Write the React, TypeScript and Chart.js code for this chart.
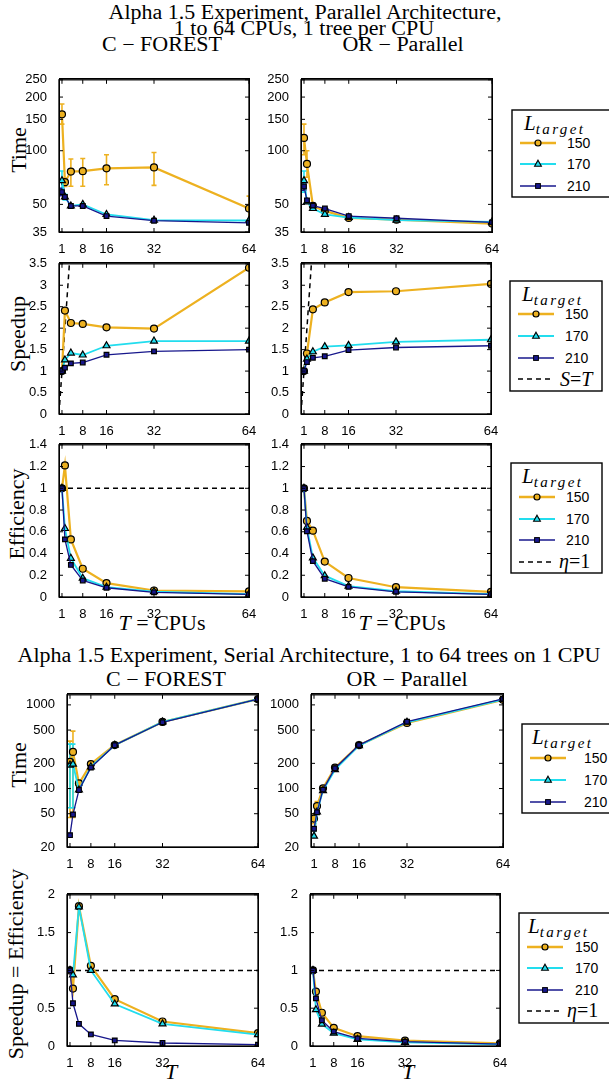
import React, { useEffect, useRef } from "react";
import { Chart, registerables } from "chart.js";

Chart.register(...registerables);

// ---------- data ----------
const T_VALUES = [1, 2, 4, 8, 16, 32, 64];
const X_TICKS = [1, 8, 16, 32, 64];
const SERIES_LABELS = ["150", "170", "210"];

const TIME_PAR_TICKS = [35, 50, 100, 150, 200, 250];
const SPEED_PAR_TICKS = [0, 0.5, 1, 1.5, 2, 2.5, 3, 3.5];
const EFF_PAR_TICKS = [0, 0.2, 0.4, 0.6, 0.8, 1, 1.2, 1.4];
const TIME_SER_TICKS = [20, 50, 100, 200, 500, 1000];
const SPEED_SER_TICKS = [0, 0.5, 1, 1.5, 2];

// Parallel architecture – time
const parTimeCF150 = [160, 66.6, 76.4, 76.8, 79.7, 80.6, 47.4];
const parTimeCF170 = [68, 55, 49, 50, 43.9, 40.8, 40.6];
const parTimeCF210 = [58.6, 55, 49, 49, 43, 40.5, 39.4];
const parTimeCF150Err = [[141, 183], [63, 70], [63.2, 89.8], [63.2, 90.5], [64.4, 95], [63.9, 97.7], [40, 55.6]];
const parTimeCF170Err = [[58.6, 77], [53, 57], null, null, null, null, null];
const parTimeCF210Err = [[56, 61.5], null, null, null, null, null, null];

const parTimeOR150 = [118, 84.3, 49, 46, 42, 41, 39];
const parTimeOR170 = [68, 51.6, 47.4, 44, 42.2, 40.8, 39.9];
const parTimeOR210 = [63, 52.7, 49.2, 47.4, 43, 41.8, 39.6];
const parTimeOR150Err = [[95, 141], [71, 100], null, null, null, null, null];
const parTimeOR170Err = [[58.6, 77], null, null, null, null, null, null];
const parTimeOR210Err = [[60, 66], null, null, null, null, null, null];

// Parallel architecture – speedup
const parSpeedCF150 = [1, 2.41, 2.12, 2.1, 2.02, 1.99, 3.41];
const parSpeedCF170 = [1, 1.26, 1.42, 1.375, 1.59, 1.7, 1.7];
const parSpeedCF210 = [1, 1.08, 1.18, 1.2, 1.38, 1.46, 1.5];
const parSpeedOR150 = [1, 1.41, 2.44, 2.6, 2.84, 2.86, 3.03];
const parSpeedOR170 = [1, 1.28, 1.45, 1.57, 1.6, 1.68, 1.73];
const parSpeedOR210 = [1, 1.21, 1.31, 1.345, 1.49, 1.55, 1.59];

// Parallel architecture – efficiency
const parEffCF150 = [1, 1.21, 0.53, 0.26, 0.128, 0.06, 0.052];
const parEffCF170 = [1, 0.63, 0.356, 0.173, 0.09, 0.05, 0.027];
const parEffCF210 = [1, 0.53, 0.295, 0.152, 0.085, 0.043, 0.024];
const parEffOR150 = [1, 0.7, 0.61, 0.326, 0.175, 0.09, 0.047];
const parEffOR170 = [1, 0.64, 0.36, 0.196, 0.1, 0.053, 0.027];
const parEffOR210 = [1, 0.605, 0.33, 0.168, 0.093, 0.048, 0.025];

// Serial architecture – time
const serTimeCF150 = [208, 274, 115, 196, 331, 625, 1170];
const serTimeCF170 = [191, 196, 96, 182, 330, 625, 1170];
const serTimeCF210 = [27.7, 49, 96, 178, 330, 620, 1170];
const serTimeCF150Err = [[45, 369], [45, 485], null, null, null, null, null];
const serTimeCF170Err = [[59, 340], [59, 340], null, null, null, null, null];

const serTimeOR150 = [43.7, 61.7, 100.7, 178, 330, 608, 1150];
const serTimeOR170 = [27, 52.4, 94.6, 168, 325, 620, 1160];
const serTimeOR210 = [33, 52, 97, 175, 331, 630, 1180];
const serTimeOR150Err = [[38, 50], [55, 70], null, null, null, null, null];

// Serial architecture – speedup = efficiency
const serSpeedCF150 = [1, 0.76, 1.85, 1.06, 0.62, 0.324, 0.17];
const serSpeedCF170 = [1, 0.94, 1.84, 1.0, 0.556, 0.293, 0.15];
const serSpeedCF210 = [1, 0.565, 0.293, 0.153, 0.074, 0.04, 0.018];
const serSpeedOR150 = [1, 0.72, 0.44, 0.24, 0.13, 0.07, 0.035];
const serSpeedOR170 = [1, 0.48, 0.29, 0.17, 0.087, 0.048, 0.022];
const serSpeedOR210 = [1, 0.63, 0.34, 0.19, 0.1, 0.057, 0.026];

// ---------- styles ----------
const STYLES = [
  { color: "#EDB120", point: "circle", radius: 3.5, width: 2.2, order: 2 },
  { color: "#22DDEE", point: "triangle", radius: 4, width: 1.8, order: 1 },
  { color: "#17178C", point: "rect", radius: 3.3, width: 1.3, order: 0 },
];
const SERIF = "'Liberation Serif', 'Times New Roman', serif";
const SANS = "'Liberation Sans', Arial, sans-serif";

type Err = number[] | null;

function drawErrBars(chart: any) {
  const ctx = chart.ctx;
  const a = chart.chartArea;
  const xs = chart.scales.x;
  const ys = chart.scales.y;
  ctx.save();
  ctx.beginPath();
  ctx.rect(a.left, a.top, a.right - a.left, a.bottom - a.top);
  ctx.clip();
  chart.data.datasets.forEach((ds: any) => {
    if (!ds.errBars) return;
    ctx.strokeStyle = ds.borderColor;
    ctx.lineWidth = 1.6;
    ds.errBars.forEach((e: Err, i: number) => {
      if (!e) return;
      const px = xs.getPixelForValue(ds.data[i].x);
      const p1 = ys.getPixelForValue(e[0]);
      const p2 = ys.getPixelForValue(e[1]);
      ctx.beginPath();
      ctx.moveTo(px, p1);
      ctx.lineTo(px, p2);
      ctx.moveTo(px - 2.5, p1);
      ctx.lineTo(px + 2.5, p1);
      ctx.moveTo(px - 2.5, p2);
      ctx.lineTo(px + 2.5, p2);
      ctx.stroke();
    });
  });
  ctx.restore();
}

function drawFrame(chart: any) {
  const ctx = chart.ctx;
  const a = chart.chartArea;
  const xs = chart.scales.x;
  const ys = chart.scales.y;
  ctx.save();
  ctx.setLineDash([]);
  ctx.globalAlpha = 1;
  ctx.globalCompositeOperation = "source-over";
  ctx.strokeStyle = "#000";
  ctx.lineWidth = 1.3;
  ctx.strokeRect(a.left, a.top, a.right - a.left, a.bottom - a.top);
  ctx.lineWidth = 1;
  ctx.beginPath();
  xs.ticks.forEach((t: any) => {
    const px = xs.getPixelForValue(t.value);
    ctx.moveTo(px, a.bottom);
    ctx.lineTo(px, a.bottom - 4);
    ctx.moveTo(px, a.top);
    ctx.lineTo(px, a.top + 4);
  });
  ys.ticks.forEach((t: any) => {
    const py = ys.getPixelForValue(t.value);
    ctx.moveTo(a.left, py);
    ctx.lineTo(a.left + 4, py);
    ctx.moveTo(a.right, py);
    ctx.lineTo(a.right - 4, py);
  });
  ctx.stroke();
  ctx.restore();
}

const decorPlugin = {
  id: "decor",
  beforeDatasetsDraw(chart: any) {
    drawErrBars(chart);
  },
  afterDraw(chart: any) {
    drawFrame(chart);
  },
};

type PanelSpec = {
  L: number; T: number; R: number; B: number;
  log: boolean; min: number; max: number; ticks: number[];
  series: number[][]; errs?: (Err[] | null)[];
  refKind?: "ST" | "eta";
};

const PAD_L = 46, PAD_T = 10, PAD_R = 14, PAD_B = 24;

function Panel({ spec }: { spec: PanelSpec }) {
  const ref = useRef<HTMLCanvasElement>(null);
  const W = spec.R - spec.L + PAD_L + PAD_R;
  const H = spec.B - spec.T + PAD_T + PAD_B;
  useEffect(() => {
    const datasets: any[] = spec.series.map((vals, si) => {
      const st = STYLES[si];
      return {
        data: T_VALUES.map((t, i) => ({ x: t, y: vals[i] })),
        borderColor: st.color,
        backgroundColor: st.color,
        borderWidth: st.width,
        pointStyle: st.point,
        pointRadius: st.radius,
        pointBackgroundColor: st.color,
        pointBorderColor: "#000",
        pointBorderWidth: 1.2,
        order: st.order,
        errBars: spec.errs ? spec.errs[si] : null,
      };
    });
    if (spec.refKind) {
      datasets.push({
        data: spec.refKind === "ST" ? [{ x: 0, y: 0 }, { x: 64, y: 64 }] : [{ x: 0, y: 1 }, { x: 64, y: 1 }],
        borderColor: "#000",
        borderWidth: 1.5,
        borderDash: [5, 4],
        pointRadius: 0,
        order: 3,
      });
    }
    const opts: any = {
      animation: false,
      responsive: false,
      maintainAspectRatio: false,
      devicePixelRatio: 1,
      layout: { padding: { left: 0, top: PAD_T, right: PAD_R, bottom: 0 } },
      plugins: { legend: { display: false }, tooltip: { enabled: false }, title: { display: false } },
      elements: { line: { tension: 0 } },
      scales: {
        x: {
          type: "linear",
          min: 0,
          max: 64,
          grid: { display: false },
          border: { display: false },
          ticks: { color: "#000", font: { family: SANS, size: 13 }, padding: 2, autoSkip: false, maxRotation: 0, callback: (v: any) => String(v) },
          afterBuildTicks: (s: any) => { s.ticks = X_TICKS.map((v) => ({ value: v })); },
          afterFit: (s: any) => { s.height = PAD_B; },
        },
        y: {
          type: spec.log ? "logarithmic" : "linear",
          min: spec.min,
          max: spec.max,
          grid: { display: false },
          border: { display: false },
          ticks: { color: "#000", font: { family: SANS, size: 13 }, padding: 4, autoSkip: false, callback: (v: any) => String(v) },
          afterBuildTicks: (s: any) => { s.ticks = spec.ticks.map((v) => ({ value: v })); },
          afterFit: (s: any) => { s.width = PAD_L; },
        },
      },
    };
    const chart = new Chart(ref.current!, {
      type: "line",
      data: { datasets },
      plugins: [decorPlugin],
      options: opts,
    });
    // align the chart area exactly with the intended plot box
    const a = chart.chartArea;
    const dTop = a.top - PAD_T;
    const dRight = a.right - (W - PAD_R);
    if (Math.abs(dTop) > 0.2 || Math.abs(dRight) > 0.2) {
      opts.layout.padding = { left: 0, top: PAD_T - dTop, right: PAD_R + dRight, bottom: 0 };
      chart.options = opts;
      chart.update();
    }
    return () => chart.destroy();
  }, []);
  return (
    <>
      <canvas
        ref={ref}
        width={W}
        height={H}
        style={{ position: "absolute", left: spec.L - PAD_L, top: spec.T - PAD_T, width: W, height: H }}
      />
      <div
        style={{
          position: "absolute",
          left: spec.L - 0.5,
          top: spec.T - 0.5,
          width: spec.R - spec.L + 1,
          height: spec.B - spec.T + 1,
          border: "1.3px solid #000",
          boxSizing: "border-box",
          pointerEvents: "none",
        }}
      />
    </>
  );
}

type LegendSpec = { x: number; y: number; w: number; h: number; ys: number[]; hdrX: number; labelX: number; refY?: number; refKind?: "ST" | "eta" };

function Legend({ spec }: { spec: LegendSpec }) {
  const svgW = Math.min(spec.w + 4, 609 - spec.x + 1);
  return (
    <svg width={svgW} height={spec.h + 2} style={{ position: "absolute", left: spec.x - 1, top: spec.y - 1, overflow: "hidden" }}>
      <rect x={1} y={1} width={spec.w} height={spec.h} fill="#fff" stroke="#000" strokeWidth={1.4} />
      <text x={1 + spec.hdrX} y={1 + 20} fontFamily={SERIF} fontStyle="italic">
        <tspan fontSize={21}>L</tspan>
        <tspan fontSize={15} dy={4} letterSpacing={2.4}>target</tspan>
      </text>
      {spec.ys.map((yy, i) => {
        const st = STYLES[i];
        const cy = 1 + yy, cx = 1 + 26;
        let marker: any;
        if (st.point === "circle") marker = <circle cx={cx} cy={cy} r={3} fill={st.color} stroke="#000" strokeWidth={1.2} />;
        else if (st.point === "triangle") marker = <polygon points={`${cx},${cy - 3.8} ${cx + 3.4},${cy + 2.2} ${cx - 3.4},${cy + 2.2}`} fill={st.color} stroke="#000" strokeWidth={1.1} />;
        else marker = <rect x={cx - 2.4} y={cy - 2.4} width={4.8} height={4.8} fill={st.color} stroke="#000" strokeWidth={1} />;
        return (
          <g key={i}>
            <line x1={1 + 8} x2={1 + 44} y1={cy} y2={cy} stroke={st.color} strokeWidth={st.width + 0.4} />
            {marker}
            <text x={1 + spec.labelX} y={cy + 5} fontFamily={SANS} fontSize={14}>{SERIES_LABELS[i]}</text>
          </g>
        );
      })}
      {spec.refY !== undefined && (
        <g>
          <line x1={1 + 8} x2={1 + 44} y1={1 + spec.refY} y2={1 + spec.refY} stroke="#000" strokeWidth={1.6} strokeDasharray="5 4" />
          {spec.refKind === "ST" ? (
            <text x={1 + 50} y={1 + spec.refY + 7} fontFamily={SERIF} fontSize={20}>
              <tspan fontStyle="italic">S</tspan>=<tspan fontStyle="italic">T</tspan>
            </text>
          ) : (
            <text x={1 + 48} y={1 + spec.refY + 6} fontFamily={SERIF} fontSize={20}>
              <tspan fontStyle="italic">η</tspan>=1
            </text>
          )}
        </g>
      )}
    </svg>
  );
}

function Label({ x, y, text, rotate }: { x: number; y: number; text: any; rotate?: boolean }) {
  return (
    <div
      style={{
        position: "absolute",
        left: x,
        top: y,
        transform: `translate(-50%, -50%)${rotate ? " rotate(-90deg)" : ""} scale(1, 0.92)`,
        fontFamily: SERIF,
        fontSize: 22,
        whiteSpace: "nowrap",
        lineHeight: 1,
        color: "#000",
        pointerEvents: "none",
      }}
    >
      {text}
    </div>
  );
}

export default function App() {
  const panels: PanelSpec[] = [
    { L: 59, T: 78, R: 249, B: 232, log: true, min: 35, max: 250, ticks: TIME_PAR_TICKS, series: [parTimeCF150, parTimeCF170, parTimeCF210], errs: [parTimeCF150Err, parTimeCF170Err, parTimeCF210Err] },
    { L: 301, T: 78, R: 492, B: 232, log: true, min: 35, max: 250, ticks: TIME_PAR_TICKS, series: [parTimeOR150, parTimeOR170, parTimeOR210], errs: [parTimeOR150Err, parTimeOR170Err, parTimeOR210Err] },
    { L: 59, T: 262, R: 249, B: 414, log: false, min: 0, max: 3.5, ticks: SPEED_PAR_TICKS, series: [parSpeedCF150, parSpeedCF170, parSpeedCF210], refKind: "ST" },
    { L: 301, T: 262, R: 491, B: 414, log: false, min: 0, max: 3.5, ticks: SPEED_PAR_TICKS, series: [parSpeedOR150, parSpeedOR170, parSpeedOR210], refKind: "ST" },
    { L: 59, T: 443, R: 249, B: 597, log: false, min: 0, max: 1.4, ticks: EFF_PAR_TICKS, series: [parEffCF150, parEffCF170, parEffCF210], refKind: "eta" },
    { L: 301, T: 443, R: 491, B: 597, log: false, min: 0, max: 1.4, ticks: EFF_PAR_TICKS, series: [parEffOR150, parEffOR170, parEffOR210], refKind: "eta" },
    { L: 67, T: 693, R: 258, B: 847, log: true, min: 20, max: 1320, ticks: TIME_SER_TICKS, series: [serTimeCF150, serTimeCF170, serTimeCF210], errs: [serTimeCF150Err, serTimeCF170Err, null] },
    { L: 311, T: 693, R: 503, B: 847, log: true, min: 20, max: 1320, ticks: TIME_SER_TICKS, series: [serTimeOR150, serTimeOR170, serTimeOR210], errs: [serTimeOR150Err, null, null] },
    { L: 67, T: 893, R: 258, B: 1046, log: false, min: 0, max: 2, ticks: SPEED_SER_TICKS, series: [serSpeedCF150, serSpeedCF170, serSpeedCF210], refKind: "eta" },
    { L: 310, T: 893, R: 500, B: 1046, log: false, min: 0, max: 2, ticks: SPEED_SER_TICKS, series: [serSpeedOR150, serSpeedOR170, serSpeedOR210], refKind: "eta" },
  ];
  const legends: LegendSpec[] = [
    { x: 512, y: 110, w: 120, h: 87, ys: [33, 54, 76], hdrX: 12, labelX: 55 },
    { x: 510, y: 281, w: 92, h: 110, ys: [33, 55, 77], hdrX: 12, labelX: 55, refY: 98, refKind: "ST" },
    { x: 511, y: 463, w: 91, h: 110, ys: [34, 56, 77], hdrX: 11, labelX: 55, refY: 99, refKind: "eta" },
    { x: 522, y: 724, w: 120, h: 89, ys: [34, 56, 78], hdrX: 10, labelX: 62 },
    { x: 519, y: 913, w: 120, h: 110, ys: [34, 55, 77], hdrX: 9, labelX: 56, refY: 98, refKind: "eta" },
  ];
  const Tsym = <span style={{ fontStyle: "italic" }}>T</span>;
  return (
    <div style={{ position: "absolute", left: 0, top: 0, width: 609, height: 1083, overflow: "hidden", background: "#fff" }}>
      <Label x={305} y={13} text="Alpha 1.5 Experiment, Parallel Architecture," />
      <Label x={304} y={29} text="1 to 64 CPUs, 1 tree per CPU" />
      <Label x={162} y={45} text="C − FOREST" />
      <Label x={403} y={45} text="OR − Parallel" />
      <Label x={20} y={150} text="Time" rotate />
      <Label x={19} y={334} text="Speedup" rotate />
      <Label x={18} y={514} text="Efficiency" rotate />
      <Label x={162} y={624} text={<>{Tsym} = CPUs</>} />
      <Label x={402} y={624} text={<>{Tsym} = CPUs</>} />
      <Label x={309} y={656} text="Alpha 1.5 Experiment, Serial Architecture, 1 to 64 trees on 1 CPU" />
      <Label x={166} y={680} text="C − FOREST" />
      <Label x={407} y={680} text="OR − Parallel" />
      <Label x={20} y={765} text="Time" rotate />
      <Label x={17} y={964} text="Speedup = Efficiency" rotate />
      <Label x={171} y={1073} text={Tsym} />
      <Label x={408} y={1073} text={Tsym} />
      {panels.map((p, i) => <Panel key={i} spec={p} />)}
      {legends.map((l, i) => <Legend key={i} spec={l} />)}
    </div>
  );
}
